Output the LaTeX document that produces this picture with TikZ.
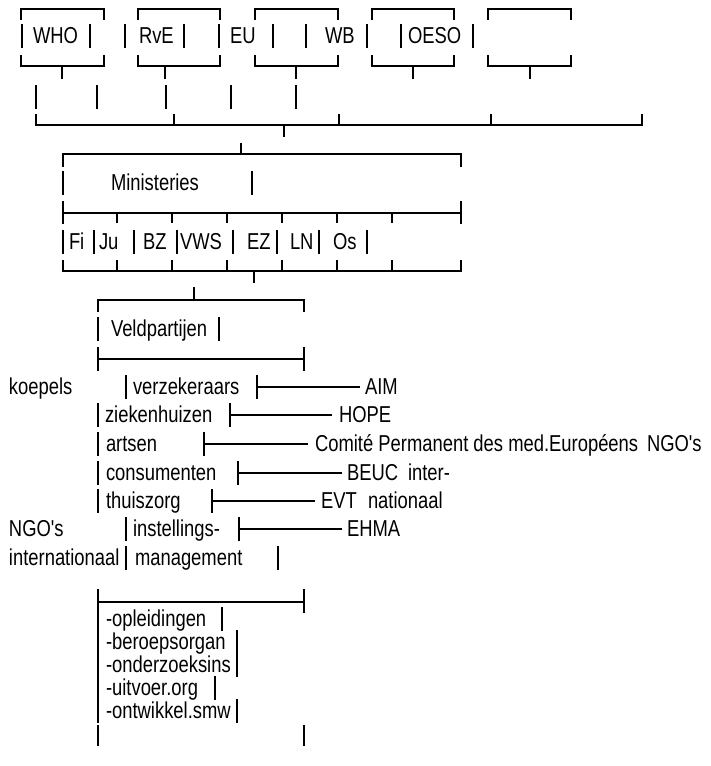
\documentclass[tikz,border=0pt]{standalone}
\usepackage{fontspec}
\setmainfont{Liberation Sans}[FakeStretch=0.8,Ligatures=TeXOff]
\begin{document}
\begin{tikzpicture}[x=1pt,y=-1pt,line width=1.1pt,
  lbl/.style={anchor=base west,inner sep=0pt,outer sep=0pt,font=\fontsize{23}{23}\selectfont}]
\useasboundingbox[fill=white] (0,0) rectangle (711,766);
\newcommand\tbar[2]{\draw (#1,#2-19) -- (#1,#2+5);}
% ---- top row of boxes
\foreach \a/\b/\t in {21/104/62,138/220/165,255/338/296,372/454/413,488/571/530}{
  \draw (\a,20) -- (\a,9) -- (\b,9) -- (\b,20);
  \draw (\a,55) -- (\a,66) -- (\b,66) -- (\b,55);
  \draw (\t,66) -- (\t,79);
}
\foreach \x in {22,90,125,184,219,273,306,367,401,473} {\tbar{\x}{43}}
\node[lbl] (who) at (33,43) {WHO};
\node[lbl] (rve) at (139,43) {RvE};
\node[lbl] (eu) at (230,43) {EU};
\node[lbl] (wb) at (325,43) {WB};
\node[lbl] (oeso) at (408,43) {OESO};
\foreach \x in {36,97,166,231,296} {\draw (\x,85) -- (\x,109);}
% ---- collecting line
\draw (36,114) -- (36,125) -- (642,125) -- (642,114);
\foreach \x in {174,339,491} {\draw (\x,114) -- (\x,125);}
\draw (284,125) -- (284,137);
% ---- Ministeries
\draw (241,143) -- (241,154);
\draw (63,167) -- (63,154) -- (461,154) -- (461,167);
\tbar{63}{190}\tbar{252}{190}
\node[lbl] (min) at (111,190) {Ministeries};
\draw (63,201) -- (63,224); \draw (461,201) -- (461,224);
\draw (63,213) -- (461,213);
\foreach \x in {117,172,227,282,337,392} {\draw (\x,213) -- (\x,223);}
\foreach \x in {63,94,134,177,233,277,319,367} {\tbar{\x}{249}}
\node[lbl] (fi) at (69,249) {Fi};
\node[lbl] (ju) at (99,249) {Ju};
\node[lbl] (bz) at (143,249) {BZ};
\node[lbl] (vws) at (180,249) {VWS};
\node[lbl] (ez) at (247,249) {EZ};
\node[lbl] (ln) at (290,249) {LN};
\node[lbl] (os) at (333,249) {Os};
\draw (63,260) -- (63,271) -- (461,271) -- (461,260);
\foreach \x in {117,172,227,282,337,392} {\draw (\x,260) -- (\x,271);}
\draw (254,271) -- (254,283);
% ---- Veldpartijen
\draw (194,287) -- (194,300);
\draw (98,312) -- (98,300) -- (304,300) -- (304,312);
\tbar{98}{336}\tbar{219}{336}
\node[lbl] (veld) at (111,336) {Veldpartijen};
\draw (98,347) -- (98,371); \draw (304,347) -- (304,371);
\draw (98,359) -- (304,359);
% rows
\node[lbl] (koep) at (9,394) {koepels};
\tbar{126}{394}
\node[lbl] (verz) at (133,394) {verzekeraars};
\tbar{257}{394}\draw (257,387) -- (360,387);
\node[lbl] (aim) at (365,394) {AIM};
\tbar{98}{422}
\node[lbl] (zie) at (105,422) {ziekenhuizen};
\tbar{230}{422}\draw (230,415) -- (332,415);
\node[lbl] (hope) at (339,422) {HOPE};
\tbar{98}{451}
\node[lbl] (art) at (106,451) {artsen};
\tbar{204}{451}\draw (204,444) -- (308,444);
\node[lbl] (cpme) at (315,451) {Comité Permanent des med.Européens};
\node[lbl] (ngo1) at (647,451) {NGO's};
\tbar{98}{480}
\node[lbl] (cons) at (106,480) {consumenten};
\tbar{238}{480}\draw (238,473) -- (342,473);
\node[lbl] (beuc) at (347,480) {BEUC};
\node[lbl] (inter) at (408,480) {inter-};
\tbar{98}{508}
\node[lbl] (thuis) at (106,508) {thuiszorg};
\tbar{212}{508}\draw (212,501) -- (315,501);
\node[lbl] (evt) at (321,508) {EVT};
\node[lbl] (nat) at (368,508) {nationaal};
\node[lbl] (ngo2) at (9,536) {NGO's};
\tbar{126}{536}
\node[lbl] (inst) at (133,536) {instellings-};
\tbar{239}{536}\draw (239,529) -- (342,529);
\node[lbl] (ehma) at (347,536) {EHMA};
\node[lbl] (intn) at (9,565) {internationaal};
\tbar{126}{565}
\node[lbl] (mgmt) at (135,565) {management};
\tbar{278}{565}
\draw (98,589) -- (98,613); \draw (304,589) -- (304,613);
\draw (98,602) -- (304,602);
\foreach \b/\r/\t [count=\i] in {626/222/-opleidingen,649/237/-beroepsorgan,672/237/-onderzoeksins,695/215/-uitvoer.org,718/237/-ontwikkel.smw}{
  \tbar{98}{\b}\tbar{\r}{\b}
  \node[lbl] (sub\i) at (106,\b) {\t};
}
\draw (98,725) -- (98,746); \draw (304,725) -- (304,746);
\end{tikzpicture}
\end{document}
